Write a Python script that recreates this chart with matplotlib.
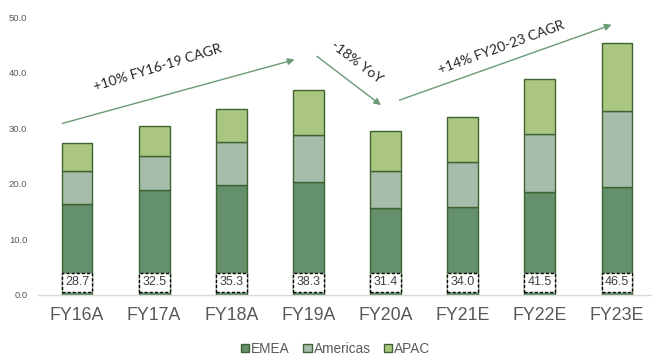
import matplotlib
matplotlib.use("Agg")
import matplotlib.pyplot as plt
from matplotlib.patches import Rectangle, Patch
import numpy as np

# Revenue by region (stacked) and reported totals
categories = ["FY16A", "FY17A", "FY18A", "FY19A", "FY20A", "FY21E", "FY22E", "FY23E"]
emea = [16.3, 18.8, 19.8, 20.4, 15.6, 15.9, 18.5, 19.5]
americas = [6.0, 6.2, 7.8, 8.4, 6.7, 8.0, 10.4, 13.7]
apac = [5.0, 5.5, 5.9, 8.1, 7.2, 8.1, 10.0, 12.2]
totals = [28.7, 32.5, 35.3, 38.3, 31.4, 34.0, 41.5, 46.5]
y_ticks = [0, 10, 20, 30, 40, 50]

# Growth callouts: (text, start, end, text position, rotation)
callouts = [
    ("+10% FY16-19 CAGR", (-0.19, 30.9), (2.82, 42.4), (1.05, 40.9), 17),
    ("-18% YoY", (3.11, 43.0), (3.94, 34.2), (3.62, 42.0), -37),
    ("+14% FY20-23 CAGR", (4.18, 35.1), (6.93, 48.7), (5.50, 44.6), 20),
]

c_emea = "#64906e"
c_amer = "#a7bdab"
c_apac = "#abc680"
edge = "#3e6230"
grey = "#595959"
arrow_c = "#6b9a78"

fig = plt.figure(figsize=(6.52, 3.56), dpi=100)
ax = fig.add_axes([0.059, 0.1722, 0.9465, 0.7786])

x = np.arange(len(categories))
w = 0.40
b1 = np.array(emea)
b2 = b1 + np.array(americas)
ax.bar(x, emea, w, color=c_emea, edgecolor=edge, linewidth=1.0, label="EMEA")
ax.bar(x, americas, w, bottom=b1, color=c_amer, edgecolor=edge, linewidth=1.0, label="Americas")
ax.bar(x, apac, w, bottom=b2, color=c_apac, edgecolor=edge, linewidth=1.0, label="APAC")

# Dashed total boxes at the foot of each bar
for xi, t in zip(x, totals):
    ax.add_patch(Rectangle((xi - w / 2, 0.5), w, 3.5, facecolor="white",
                           edgecolor="black", linestyle=(0, (2.2, 1.5)),
                           linewidth=1.0, zorder=3))
    ax.text(xi, 2.25, f"{t:.1f}", ha="center", va="center", fontsize=9,
            color="#404040", family="Liberation Sans", zorder=4)

for text, start, end, pos, rot in callouts:
    ax.annotate("", xy=end, xytext=start,
                arrowprops=dict(arrowstyle="-|>", color=arrow_c, lw=1.0,
                                mutation_scale=10, shrinkA=0, shrinkB=0))
    ax.text(pos[0], pos[1], text, rotation=rot, ha="center", va="center",
            fontsize=10, color="#262626", family="Lato",
            rotation_mode="anchor")

ax.set_xlim(-0.5, len(categories) - 0.5)
ax.set_ylim(0, 50)
ax.set_xticks(x)
ax.set_xticklabels(categories, fontsize=12.8, color=grey, family="Liberation Sans")
ax.set_yticks(y_ticks)
ax.set_yticklabels([f"{v:.1f}" for v in y_ticks], fontsize=6.8, color=grey,
                   family="Liberation Sans")
ax.tick_params(axis="both", length=0)
ax.tick_params(axis="x", pad=9)
ax.tick_params(axis="y", pad=8)
for s in ["top", "right", "left"]:
    ax.spines[s].set_visible(False)
ax.spines["bottom"].set_color("#d9d9d9")
ax.spines["bottom"].set_linewidth(1.0)

handles = [Patch(facecolor=c_emea, edgecolor=edge, label="EMEA"),
           Patch(facecolor=c_amer, edgecolor=edge, label="Americas"),
           Patch(facecolor=c_apac, edgecolor=edge, label="APAC")]
leg = fig.legend(handles=handles, loc="center", bbox_to_anchor=(0.515, 0.02),
                 ncol=3, frameon=False, handlelength=0.6,
                 handleheight=0.6, handletextpad=0.15, columnspacing=1.0,
                 prop={"family": "Liberation Sans", "size": 9.8})
for t in leg.get_texts():
    t.set_color(grey)

fig.savefig("out.png", dpi=100)
